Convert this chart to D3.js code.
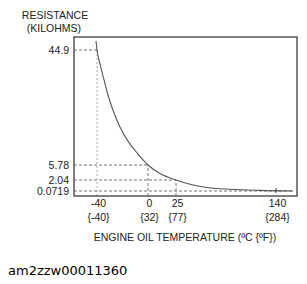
<!DOCTYPE html>
<meta charset="utf-8">
<style>
body { margin: 0; background: #fff; }
svg { font-family: "Liberation Sans", Arial, sans-serif; }
.guide { stroke: #777; stroke-width: 1px; stroke-dasharray: 3,2; fill: none; }
.guide.light { stroke: #aaa; stroke-dasharray: 2,2; }
.curve { stroke: #555; stroke-width: 1.1px; fill: none; }
.frame { stroke: #4a4a4a; stroke-width: 1.4px; fill: none; }
.axis text { fill: #222; font-size: 10.5px; }
</style>
<body>
<script src="https://cdn.jsdelivr.net/npm/d3@7"></script>
<script>
var width = 307, height = 284;
var box = {left: 74, top: 37, right: 297, bottom: 196};

// ticks
var tempTicks = [-40, 0, 25, 140];
var tempTicksF = [-40, 32, 77, 284];
var resTicks = [0.0719, 2.04, 5.78, 44.9];
var resAtTemp = [44.9, 5.78, 2.04, 0.0719];

// curve (deg C, kilohms)
var curveTemp = [-40.8, -40, -37.6, -34.5, -31.4, -27.5, -22, -15.7, -7.8, 0, 10.7, 25, 41.1, 58.4, 87.1, 121.6, 159.5];
var curveRes  = [48, 44.9, 40.1, 34.7, 29.6, 24.5, 18.7, 13.9, 9.5, 5.78, 3.66, 2.04, 1.27, 0.75, 0.376, 0.179, 0.07];

// the axes of the drawing are not linear, so use piecewise scales
var x = d3.scaleLinear().domain(tempTicks).range([97, 148, 176, 276]);
var y = d3.scaleLinear().domain(resTicks).range([191, 180, 165, 50]);

var svg = d3.select("body").append("svg")
    .attr("width", width)
    .attr("height", height);

var pts = curveTemp.map(function(t, i) { return [t, curveRes[i]]; });

// horizontal guides
svg.append("g").selectAll("line")
  .data(tempTicks)
  .enter().append("line")
    .attr("class", "guide")
    .attr("x1", box.left)
    .attr("x2", function(d, i) { return i == 3 ? x(curveTemp[curveTemp.length - 1]) : x(d); })
    .attr("y1", function(d, i) { return y(resAtTemp[i]); })
    .attr("y2", function(d, i) { return y(resAtTemp[i]); });

// vertical guides (not for 140, which only has a small tick)
svg.append("g").selectAll("line")
  .data(tempTicks.slice(0, 3))
  .enter().append("line")
    .attr("class", function(d, i) { return i == 0 ? "guide light" : "guide"; })
    .attr("x1", function(d) { return x(d); })
    .attr("x2", function(d) { return x(d); })
    .attr("y1", box.bottom)
    .attr("y2", function(d, i) { return y(resAtTemp[i]); });

svg.append("line")
    .attr("x1", x(140)).attr("x2", x(140))
    .attr("y1", y(0.0719) - 3).attr("y2", y(0.0719) + 2)
    .attr("stroke", "#333").attr("stroke-width", 1);

svg.append("path")
    .datum(pts)
    .attr("class", "curve")
    .attr("d", d3.line()
      .x(function(d) { return x(d[0]); })
      .y(function(d) { return y(d[1]); })
      .curve(d3.curveMonotoneX));

svg.append("rect")
    .attr("class", "frame")
    .attr("x", box.left).attr("y", box.top)
    .attr("width", box.right - box.left)
    .attr("height", box.bottom - box.top);

// y axis labels
var yAxis = svg.append("g")
    .attr("class", "axis")
    .attr("transform", "translate(" + (box.left - 1) + ",0)")
    .call(d3.axisLeft(y).tickValues(resTicks).tickSize(0).tickPadding(4)
      .tickFormat(function(d) { return String(d); }));
yAxis.select(".domain").remove();

// x axis labels, two lines: C and {F}
var xAxis = svg.append("g")
    .attr("class", "axis")
    .attr("transform", "translate(0," + box.bottom + ")")
    .call(d3.axisBottom(x).tickValues(tempTicks).tickSize(0).tickPadding(4)
      .tickFormat(function(d) { return String(d); }));
xAxis.select(".domain").remove();
xAxis.selectAll(".tick text").each(function(d, i) {
  var t = d3.select(this);
  t.text(null);
  t.append("tspan").attr("x", 1).text(d);
  t.append("tspan").attr("x", 1).attr("dy", "1.3em").text("{" + tempTicksF[i] + "}");
});

svg.append("text")
    .attr("x", 55).attr("y", 19)
    .attr("text-anchor", "middle")
    .style("font-size", "10.5px").style("fill", "#222")
    .text("RESISTANCE");
svg.append("text")
    .attr("x", 54).attr("y", 32)
    .attr("text-anchor", "middle")
    .style("font-size", "10.5px").style("fill", "#222")
    .text("(KILOHMS)");

svg.append("text")
    .attr("x", 185).attr("y", 241)
    .attr("text-anchor", "middle")
    .style("font-size", "10.5px").style("fill", "#222")
    .text("ENGINE OIL TEMPERATURE (\u00baC {\u00baF})");

svg.append("text")
    .attr("x", 8).attr("y", 275)
    .style("font-family", "'DejaVu Sans', sans-serif")
    .style("font-size", "13px").style("fill", "#000")
    .text("am2zzw00011360");
</script>
</body>
